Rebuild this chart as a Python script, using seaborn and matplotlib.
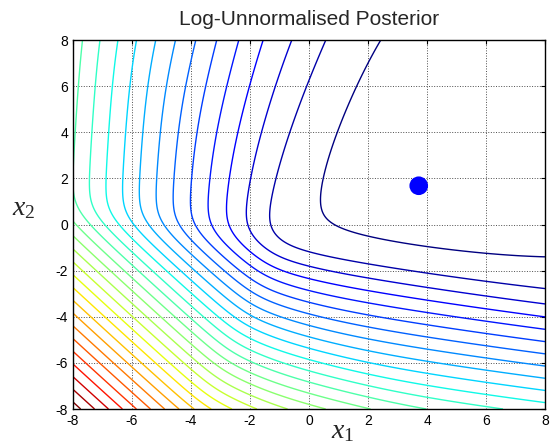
import numpy as np
import matplotlib
matplotlib.use('Agg')
import matplotlib.pyplot as plt
import seaborn as sns

# Logistic terms of the log-likelihood: slope in x1, slope in x2, bias, softness
term_w1 = [0.75, 0.6, 0.3, 0.1, 0.25]
term_w2 = [-0.25, 0.0, 0.18, 0.75, 1.1]
term_bias = [0.6125, 0.9, 0.5, 0.45, 1.1]
term_soft = [0.3, 0.45, 0.3, 0.3, 0.4]

# Gaussian prior (mean and variances) and the marked point
prior_mean = [5.0, 1.6]
prior_var = [100.0, 200.0]
point_x1 = [3.72]
point_x2 = [1.68]

# Contour settings
level_gap = 0.2
level_step = 1.0

# Evaluate the log-unnormalised posterior on a grid
x1 = np.linspace(-8, 8, 321)
x2 = np.linspace(-8, 8, 321)
X1, X2 = np.meshgrid(x1, x2)
Z = -(X1 - prior_mean[0])**2 / (2 * prior_var[0]) - (X2 - prior_mean[1])**2 / (2 * prior_var[1])
for a, b, c, t in zip(term_w1, term_w2, term_bias, term_soft):
    u = (a * X1 + b * X2 + c) / t
    Z += -t * np.logaddexp(0, -u)

levels = np.arange(Z.max() - level_gap, Z.min(), -level_step)[::-1]

sns.set_style('white')
plt.rcParams['font.family'] = ['Liberation Sans', 'DejaVu Sans']
plt.rcParams['axes.unicode_minus'] = False
plt.rcParams['mathtext.fontset'] = 'custom'
plt.rcParams['mathtext.it'] = 'Liberation Serif:italic'
plt.rcParams['mathtext.rm'] = 'Liberation Serif'

fig = plt.figure(figsize=(5.5, 4.44), dpi=100)
ax = fig.add_axes([73 / 550, 35 / 444, 472 / 550, 369 / 444])

ax.contour(X1, X2, Z, levels=levels, cmap='jet_r', linewidths=1.0)
sns.scatterplot(x=point_x1, y=point_x2, color='#0000ff', s=180, edgecolor='none', ax=ax, zorder=5)

ax.set_xlim(-8, 8)
ax.set_ylim(-8, 8)
ax.set_xticks(range(-8, 9, 2))
ax.set_yticks(range(-8, 9, 2))
ax.tick_params(direction='in', top=True, right=True, length=3, labelsize=10, colors='black')
ax.grid(True, color='0.3', linestyle=':', linewidth=0.7)
for s in ax.spines.values():
    s.set_color('black')
    s.set_linewidth(1.0)

ax.set_title('Log-Unnormalised Posterior', fontsize=15, pad=11)
ax.set_xlabel(r'$\mathit{x}_\mathit{1}$', fontsize=20)
ax.xaxis.set_label_coords(0.572, -0.025)
ax.set_ylabel(r'$\mathit{x}_\mathit{2}$', fontsize=20, rotation=0, ha='center', va='center')
ax.yaxis.set_label_coords(-0.104, 0.545)

fig.savefig('out.png', dpi=100)
